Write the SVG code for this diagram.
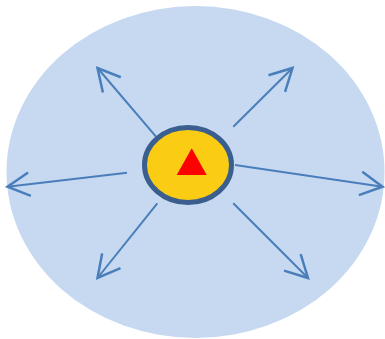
<svg xmlns="http://www.w3.org/2000/svg" width="385" height="339" viewBox="0 0 385 339">
<style>
.conn{stroke:#4A7EBB;stroke-width:2;fill:none;marker-end:url(#arr)}
</style>
<defs>
<marker id="arr" markerUnits="userSpaceOnUse" markerWidth="30" markerHeight="30" viewBox="-22 -12 24 24" refX="0" refY="0" orient="auto">
<path d="M-17.7,-9.4 L0,0 L-17.7,9.4" fill="none" stroke="#4A7EBB" stroke-width="2"/>
</marker>
</defs>
<g id="background">
<ellipse cx="195.5" cy="172" rx="189" ry="166" fill="#C6D9F1"/>
</g>
<g id="connectors">
<line class="conn" x1="156" y1="136.7" x2="97.5" y2="68"/>
<line class="conn" x1="233.3" y1="126.7" x2="292.5" y2="68"/>
<line class="conn" x1="127" y1="172.7" x2="7.5" y2="186.7"/>
<line class="conn" x1="235" y1="165" x2="382.5" y2="186.7"/>
<line class="conn" x1="157.3" y1="203.3" x2="97.5" y2="278"/>
<line class="conn" x1="233.3" y1="203.3" x2="308" y2="278"/>
</g>
<g id="center">
<ellipse cx="188" cy="165" rx="43.5" ry="37.5" fill="#FACC13" stroke="#3A5F8F" stroke-width="5"/>
<polygon points="191.7,148.3 206.7,175 176.7,175" fill="#FF0000"/>
</g>
</svg>
